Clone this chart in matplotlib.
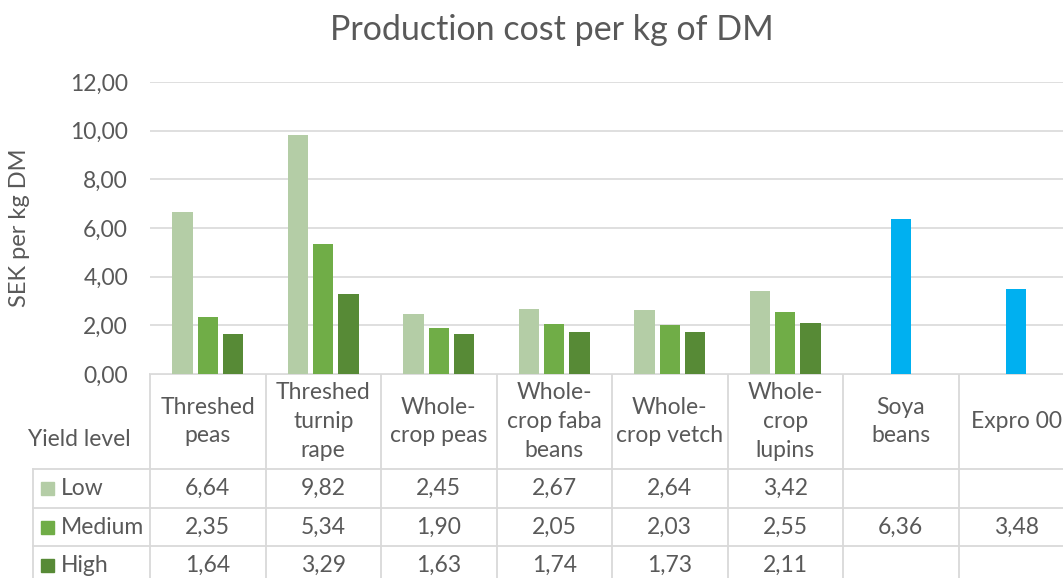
import numpy as np
import matplotlib.pyplot as plt
import matplotlib.transforms as mtransforms

plt.rcParams['font.family'] = ['Lato', 'DejaVu Sans']

# dados
categories = ["Threshed\npeas", "Threshed\nturnip\nrape", "Whole-\ncrop peas",
              "Whole-\ncrop faba\nbeans", "Whole-\ncrop vetch", "Whole-\ncrop\nlupins",
              "Soya\nbeans", "Expro 00"]
series_names = ["Low", "Medium", "High"]
low = [6.64, 9.82, 2.45, 2.67, 2.64, 3.42, None, None]
medium = [2.35, 5.34, 1.90, 2.05, 2.03, 2.55, 6.36, 3.48]
high = [1.64, 3.29, 1.63, 1.74, 1.73, 2.11, None, None]
yticks = [0, 2, 4, 6, 8, 10, 12]

colors = ['#B4CDA6', '#70AD47', '#578A36']
blue = '#00B0F0'
text_col = '#595959'
grid_col = '#D9D9D9'
fs = 16.5

W, H = 1063, 578
fig = plt.figure(figsize=(W / 100, H / 100), dpi=100)

# eixo principal em coordenadas de pixel
x0, x1, ytop, ybot = 150, 1074, 82, 374
ax = fig.add_axes([x0 / W, 1 - ybot / H, (x1 - x0) / W, (ybot - ytop) / H])
ax.set_xlim(-0.5, len(categories) - 0.5)
ax.set_ylim(0, 12)

# eixo auxiliar para a tabela (pixels)
tab = fig.add_axes([0, 0, 1, 1], zorder=-1)
tab.set_xlim(0, W)
tab.set_ylim(H, 0)
tab.axis('off')

x = np.arange(len(categories))
bw = 0.175
step = 0.218
all_series = [low, medium, high]
for k, vals in enumerate(all_series):
    v = np.array([np.nan if a is None else a for a in vals], dtype=float)
    cols = [colors[k]] * len(v)
    if k == 1:
        cols[6] = blue
        cols[7] = blue
    ax.bar(x + (k - 1) * step, v, width=bw, color=cols, zorder=3)

ax.set_yticks(yticks)
ax.set_yticklabels([f"{t:.2f}".replace(".", ",") for t in yticks],
                   fontsize=fs, color=text_col)
ax.tick_params(axis='y', length=0, pad=15.8)
ax.set_xticks([])
ax.grid(axis='y', color=grid_col, lw=1.2, zorder=0)
for s in ax.spines.values():
    s.set_visible(False)
ax.set_ylabel("SEK per kg DM", fontsize=17, color=text_col)
ax.yaxis.set_label_coords(-0.130, 0.5)

fig.text(552 / W, 1 - 30 / H, "Production cost per kg of DM", ha='center', va='center',
         fontsize=24.5, color=text_col)

# tabela de dados
tr = mtransforms.blended_transform_factory(ax.transData, tab.transData)
lw = 1.3
rows_y = [374, 469, 508, 546, 585]
tab.plot([x0, W], [374, 374], color=grid_col, lw=lw)
for yy in rows_y[1:4]:
    tab.plot([33, W], [yy, yy], color=grid_col, lw=lw)
tab.plot([33, 33], [469, H], color=grid_col, lw=lw)
for i in range(len(categories) + 1):
    tab.plot([i - 0.5, i - 0.5], [374, H], color=grid_col, lw=lw, transform=tr)

for i, c in enumerate(categories):
    tab.text(i, 421.5, c, ha='center', va='center', fontsize=fs, color=text_col,
             linespacing=1.45, transform=tr)

tab.text(79, 440, "Yield level", ha='center', va='center', fontsize=fs, color=text_col)

for k, vals in enumerate(all_series):
    yc = (rows_y[k + 1] + rows_y[k + 2]) / 2
    tab.add_patch(plt.Rectangle((41, yc - 6.5), 13, 13, color=colors[k]))
    tab.text(61, yc, series_names[k], ha='left', va='center', fontsize=fs, color=text_col)
    for i, v in enumerate(vals):
        if v is None:
            continue
        tab.text(i, yc, f"{v:.2f}".replace(".", ","), ha='center', va='center',
                 fontsize=fs, color=text_col, transform=tr)

fig.savefig("out.png", dpi=100)
